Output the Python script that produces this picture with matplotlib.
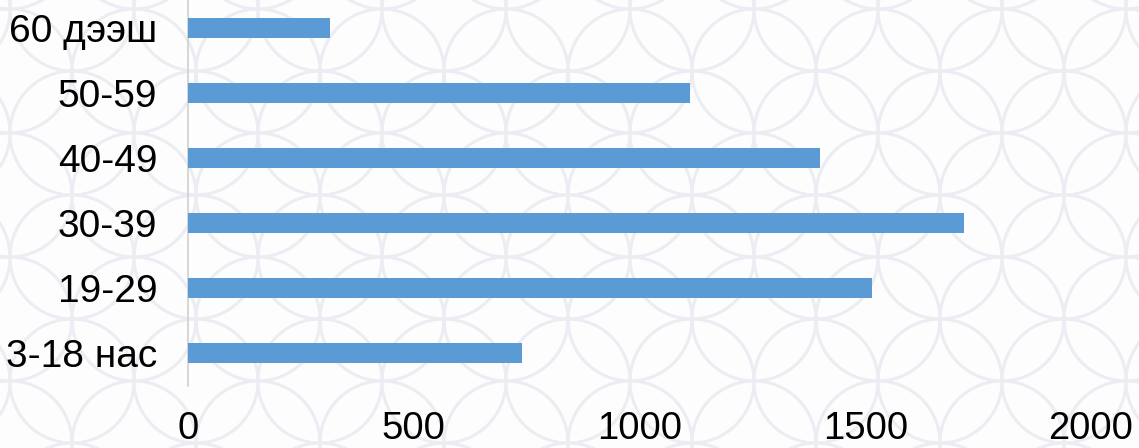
import matplotlib
matplotlib.use("Agg")
import matplotlib.pyplot as plt
from matplotlib.patches import Circle

categories = ["3-18 нас", "19-29", "30-39", "40-49", "50-59", "60 дээш"]
values = [739, 1515, 1718, 1400, 1112, 314]
xticks = [0, 500, 1000, 1500, 2000]

plt.rcParams['font.family'] = ['Liberation Sans', 'DejaVu Sans']

fig = plt.figure(figsize=(11.39, 4.48), dpi=100)
fig.patch.set_facecolor("#fdfdfe")

# faint decorative background of overlapping circles
step = 0.62  # inches
r = 0.62
nx = int(11.39 / step) + 3
ny = int(4.48 / step) + 3
for i in range(-1, nx):
    for j in range(-1, ny):
        if (i + j) % 2:
            continue
        cx = i * step + 0.1
        cy = j * step + 0.05
        c = Circle((cx, cy), r, transform=fig.dpi_scale_trans, fill=False,
                   edgecolor="#ecedf3", linewidth=2.2, zorder=0)
        fig.add_artist(c)

ax = fig.add_axes([188 / 1139, 1 - 385.5 / 448, (1091 - 188) / 1139, 390 / 448])
ax.patch.set_alpha(0)
ax.barh(range(len(categories)), values, height=0.31, color="#5b9bd5", zorder=3)
ax.set_xlim(0, 2000)
ax.set_ylim(-0.5, len(categories) - 0.5)
ax.set_yticks(range(len(categories)))
ax.set_yticklabels(categories, fontsize=28)
ax.set_xticks(xticks)
ax.set_xticklabels([str(t) for t in xticks], fontsize=27.5)
for s in ["top", "right", "bottom"]:
    ax.spines[s].set_visible(False)
ax.spines["left"].set_color("#d0d0d0")
ax.spines["left"].set_linewidth(1.2)
ax.tick_params(axis="both", length=0)
ax.tick_params(axis="y", pad=22)
ax.tick_params(axis="x", pad=18)

fig.savefig("out.png", dpi=100, facecolor=fig.get_facecolor())
